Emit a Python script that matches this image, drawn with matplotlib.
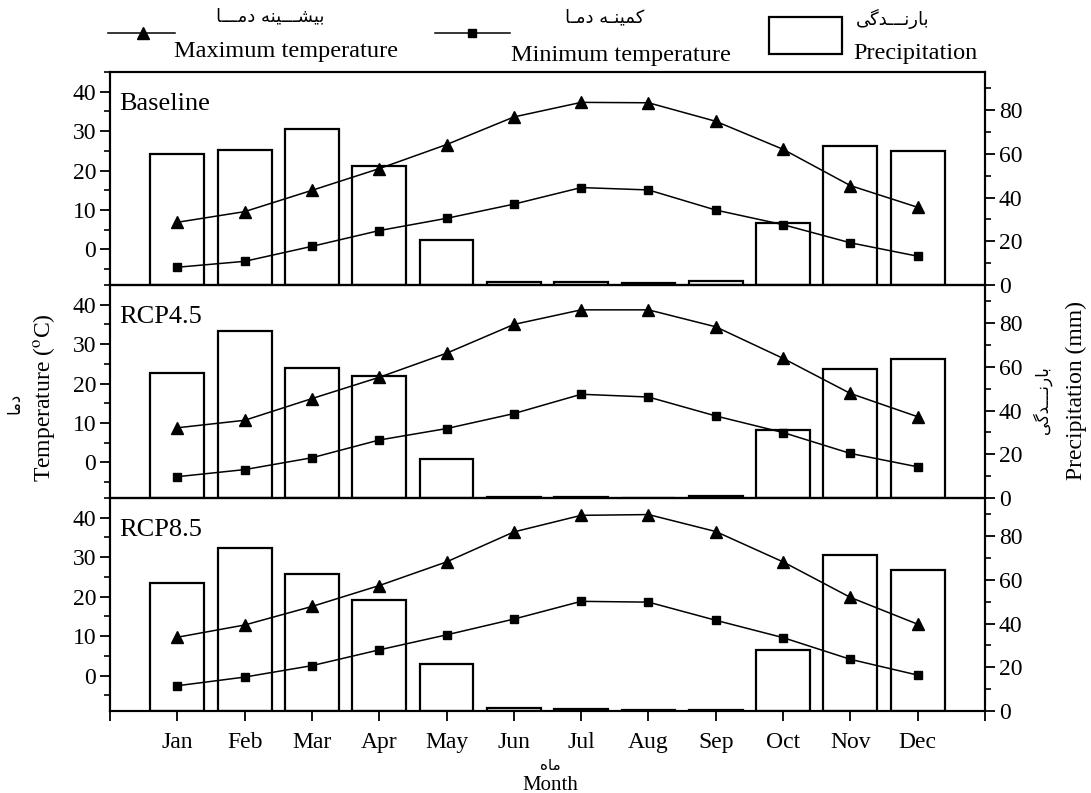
import matplotlib

matplotlib.use("Agg")
import matplotlib.pyplot as plt
from matplotlib.lines import Line2D
from matplotlib.patches import Rectangle
from matplotlib.ticker import MultipleLocator

plt.rcParams["font.family"] = ["Liberation Serif", "DejaVu Sans"]
plt.rcParams["mathtext.fontset"] = "stix"

# ---- data ----
months = ["Jan", "Feb", "Mar", "Apr", "May", "Jun",
          "Jul", "Aug", "Sep", "Oct", "Nov", "Dec"]
scenarios = ["Baseline", "RCP4.5", "RCP8.5"]

precip_base = [60.1, 61.8, 71.6, 54.4, 20.8, 1.4, 1.4, 0.8, 1.8, 28.6, 63.6, 61.3]
tmax_base = [6.9, 9.6, 15.0, 20.5, 26.6, 33.6, 37.3, 37.2, 32.5, 25.4, 16.2, 10.7]
tmin_base = [-4.5, -3.0, 0.8, 4.8, 7.9, 11.5, 15.7, 15.1, 10.0, 6.3, 1.7, -1.7]

precip_45 = [57.2, 76.6, 59.5, 56.0, 17.7, 0.6, 0.6, 0.2, 0.8, 31.2, 59.0, 63.6]
tmax_45 = [8.8, 10.7, 16.2, 21.6, 27.7, 35.0, 38.7, 38.7, 34.4, 26.4, 17.5, 11.6]
tmin_45 = [-3.6, -1.8, 1.2, 5.7, 8.6, 12.4, 17.3, 16.6, 11.8, 7.6, 2.3, -1.1]

precip_85 = [58.7, 74.5, 62.5, 50.8, 21.7, 1.4, 0.8, 0.3, 0.3, 28.1, 71.4, 64.5]
tmax_85 = [9.7, 12.8, 17.5, 22.8, 28.8, 36.4, 40.6, 40.8, 36.5, 28.8, 19.8, 13.0]
tmin_85 = [-2.6, -0.4, 2.5, 6.5, 10.3, 14.3, 18.8, 18.6, 14.0, 9.6, 4.1, 0.1]

precip_all = [precip_base, precip_45, precip_85]
tmax_all = [tmax_base, tmax_45, tmax_85]
tmin_all = [tmin_base, tmin_45, tmin_85]

# ---- minimal Persian shaping (matplotlib has no bidi / joining) ----
FORMS = {
    "\u0627": ("\ufe8d", "\ufe8e", None, None),        # alef
    "\u0628": ("\ufe8f", "\ufe90", "\ufe91", "\ufe92"),  # beh
    "\u062f": ("\ufea9", "\ufeaa", None, None),        # dal
    "\u0631": ("\ufead", "\ufeae", None, None),        # reh
    "\u0634": ("\ufeb5", "\ufeb6", "\ufeb7", "\ufeb8"),  # sheen
    "\u0645": ("\ufee1", "\ufee2", "\ufee3", "\ufee4"),  # meem
    "\u0646": ("\ufee5", "\ufee6", "\ufee7", "\ufee8"),  # noon
    "\u0647": ("\ufee9", "\ufeea", "\ufeeb", "\ufeec"),  # heh
    "\u06a9": ("\ufb8e", "\ufb8f", "\ufb90", "\ufb91"),  # keheh
    "\u06af": ("\ufb92", "\ufb93", "\ufb94", "\ufb95"),  # gaf
    "\u06cc": ("\ufbfc", "\ufbfd", "\ufbfe", "\ufbff"),  # farsi yeh
    "\u0640": ("\u0640",) * 4,                          # tatweel
}


def fa(text):
    text = text.replace("\u064a", "\u06cc").replace("\u0643", "\u06a9")
    out = []
    for i, ch in enumerate(text):
        if ch not in FORMS:
            out.append(ch)
            continue
        prev = text[i - 1] if i > 0 else ""
        nxt = text[i + 1] if i + 1 < len(text) else ""
        jp = prev in FORMS and FORMS[prev][2] is not None
        jn = FORMS[ch][2] is not None and nxt in FORMS
        f = FORMS[ch]
        out.append(f[3] if jp and jn else f[1] if jp else f[2] if jn else f[0])
    return "".join(reversed(out))


FA = ["DejaVu Sans"]
W, H = 1091, 793


def fx(x):
    return x / W


def fy(y):
    return 1 - y / H


fig = plt.figure(figsize=(W / 100, H / 100), dpi=100)

x = list(range(1, 13))
left, width = fx(110), fx(985) - fx(110)
panel_h = 213 / H
bottoms = [fy(285), fy(498), fy(711)]

for i, name in enumerate(scenarios):
    ax = fig.add_axes([left, bottoms[i], width, panel_h])
    ax2 = ax.twinx()
    ax2.bar(x, precip_all[i], width=0.8, facecolor="white",
            edgecolor="black", linewidth=1.6)
    ax.plot(x, tmax_all[i], "-^", color="black", lw=1.1, ms=8)
    ax.plot(x, tmin_all[i], "-s", color="black", lw=1.1, ms=6)
    ax.set_zorder(ax2.get_zorder() + 1)
    ax.patch.set_visible(False)

    ax.set_xlim(0, 13)
    ax.set_ylim(-9, 45)
    ax2.set_ylim(0, 97.5)
    ax.set_yticks([0, 10, 20, 30, 40])
    ax.yaxis.set_minor_locator(MultipleLocator(5))
    ax2.set_yticks([0, 20, 40, 60, 80])
    ax2.yaxis.set_minor_locator(MultipleLocator(10))

    for a in (ax, ax2):
        for s in a.spines.values():
            s.set_linewidth(1.5)
        a.tick_params(axis="y", which="major", direction="out", length=7,
                      width=1.3, labelsize=17, pad=3)
        a.tick_params(axis="y", which="minor", direction="out", length=4,
                      width=1.2)

    ax.set_xticks(range(0, 14))
    if i == 2:
        ax.set_xticklabels([""] + months + [""])
        ax.tick_params(axis="x", direction="out", length=7, width=1.3,
                       labelsize=17, pad=8)
    else:
        ax.tick_params(axis="x", length=0, labelbottom=False)
    ax2.tick_params(axis="x", length=0)

    ax.text(0.011, 0.85, name, transform=ax.transAxes, fontsize=19,
            ha="left", va="center")

# axis titles
fig.text(fx(44), fy(398), "Temperature ($^{\\rm o}$C)", rotation=90,
         ha="center", va="center", fontsize=17)
fig.text(fx(14), fy(403), fa("دما"), rotation=90, ha="center",
         va="center", fontsize=12, family=FA)
fig.text(fx(1076), fy(390), "Precipitation (mm)", rotation=90,
         ha="center", va="center", fontsize=17)
fig.text(fx(1042), fy(400), fa("بارنـــدگی"), rotation=90, ha="center",
         va="center", fontsize=12, family=FA)
fig.text(fx(550), fy(785), "Month", ha="center", va="center", fontsize=15)
fig.text(fx(550), fy(766), fa("ماه"), ha="center", va="center",
         fontsize=11, family=FA)

# legend drawn by hand (two-language labels)
fig.add_artist(Line2D([fx(108), fx(143), fx(175)], [fy(33)] * 3,
                      transform=fig.transFigure, color="black", lw=1.1,
                      marker="^", ms=8, markevery=[1]))
fig.add_artist(Line2D([fx(435), fx(472), fx(510)], [fy(33)] * 3,
                      transform=fig.transFigure, color="black", lw=1.1,
                      marker="s", ms=6, markevery=[1]))
fig.add_artist(Rectangle((fx(769), fy(54)), fx(842) - fx(769),
                         fy(17) - fy(54), transform=fig.transFigure,
                         facecolor="white", edgecolor="black", lw=1.6))
fig.text(fx(270), fy(16), fa("بیشـــینه دمـــا"), ha="center", va="center",
         fontsize=13, family=FA)
fig.text(fx(286), fy(51), "Maximum temperature", ha="center",
         va="center", fontsize=17.5)
fig.text(fx(605), fy(17), fa("کمینـه دمـا"), ha="center", va="center",
         fontsize=13, family=FA)
fig.text(fx(621), fy(55), "Minimum temperature", ha="center",
         va="center", fontsize=17.5)
fig.text(fx(893), fy(19), fa("بارنـــدگی"), ha="center", va="center",
         fontsize=13, family=FA)
fig.text(fx(915), fy(54), "Precipitation", ha="center", va="center",
         fontsize=17.5)

fig.savefig("out.png", dpi=100)
